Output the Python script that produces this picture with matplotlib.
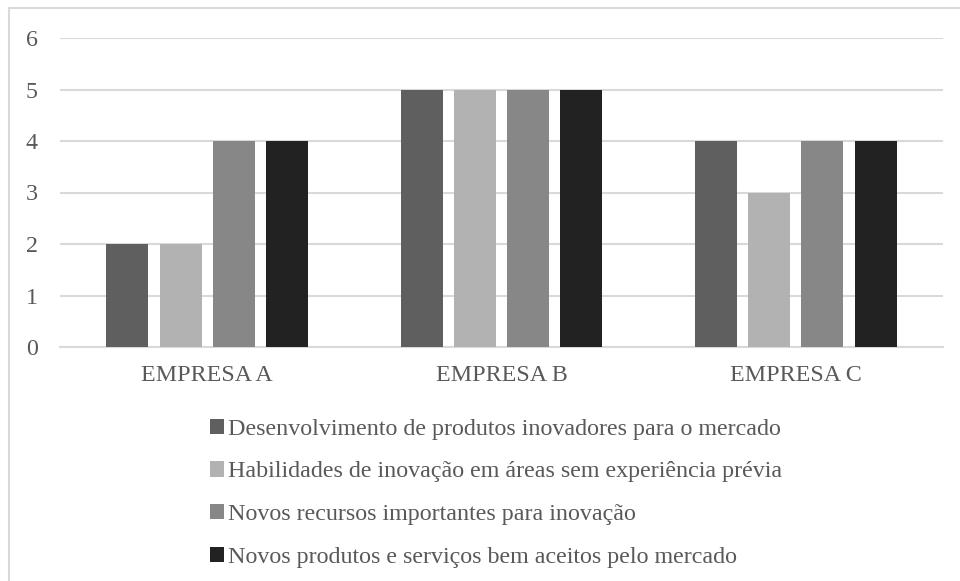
import matplotlib
matplotlib.use("Agg")
import matplotlib.pyplot as plt
import numpy as np
from matplotlib.patches import Rectangle

categories = ["EMPRESA A", "EMPRESA B", "EMPRESA C"]
series_names = [
    "Desenvolvimento de produtos inovadores para o mercado",
    "Habilidades de inovação em áreas sem experiência prévia",
    "Novos recursos importantes para inovação",
    "Novos produtos e serviços bem aceitos pelo mercado",
]
series_values = [
    [2, 5, 4],
    [2, 5, 3],
    [4, 5, 4],
    [4, 5, 4],
]
colors = ["#5f5f5f", "#b2b2b2", "#878787", "#222222"]
yticks = [0, 1, 2, 3, 4, 5, 6]

plt.rcParams['font.family'] = ['Liberation Serif', 'DejaVu Serif']
W, H = 960, 581
fig = plt.figure(figsize=(W/100, H/100), dpi=100)

fig.patches.append(Rectangle((9/W, -0.1), 1.2, 1 - 8/H + 0.1, transform=fig.transFigure,
                             fill=False, edgecolor="#d9d9d9", linewidth=1.5))

left, right = 60, 943
ax = fig.add_axes([left/W, 1 - 347/H, (right-left)/W, (347-38)/H])
cat_w = (right - left) / 3
x = np.arange(len(categories))
bw = 42/cat_w
step = 53.3/cat_w
offsets = (np.arange(4) - 1.5) * step
for i, (vals, c) in enumerate(zip(series_values, colors)):
    ax.bar(x + offsets[i], vals, width=bw, color=c, label=series_names[i], zorder=3)

ax.set_xlim(-0.5, 2.5)
ax.set_ylim(0, 6)
ax.set_yticks(yticks)
ax.yaxis.grid(True, color="#d9d9d9", linewidth=1.5, zorder=0)
ax.set_axisbelow(True)
for s in ["top", "right", "left"]:
    ax.spines[s].set_visible(False)
ax.spines["bottom"].set_color("#d9d9d9")
ax.spines["bottom"].set_linewidth(1.5)
ax.tick_params(axis="both", length=0, labelsize=17.3, labelcolor="#595959")
ax.tick_params(axis="y", pad=16)
ax.tick_params(axis="x", pad=13)
ax.set_xticks(x)
ax.set_xticklabels(categories)

handles, labels = ax.get_legend_handles_labels()
leg = fig.legend(handles, labels, loc="upper left", bbox_to_anchor=(188/W, 1 - 397/H),
                 frameon=False, fontsize=17.3, handlelength=0.6, handleheight=0.6,
                 handletextpad=0.15, labelspacing=0.9, labelcolor="#595959")

fig.savefig("out.png", dpi=100)
